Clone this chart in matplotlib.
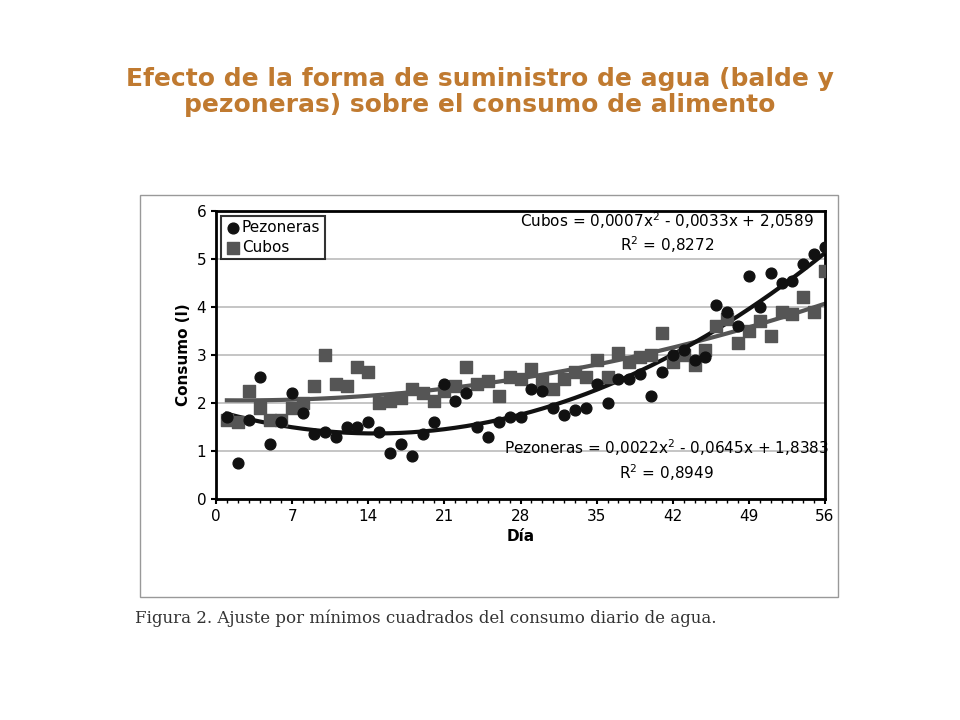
import matplotlib.pyplot as plt
import matplotlib.patches as patches
import numpy as np

dias = list(range(1, 57))
pezoneras = [1.7, 0.75, 1.65, 2.55, 1.15, 1.6, 2.2, 1.8, 1.35, 1.4, 1.3, 1.5, 1.5, 1.6, 1.4, 0.95, 1.15, 0.9,
             1.35, 1.6, 2.4, 2.05, 2.2, 1.5, 1.3, 1.6, 1.7, 1.7, 2.3, 2.25, 1.9, 1.75, 1.85, 1.9, 2.4, 2.0,
             2.5, 2.5, 2.6, 2.15, 2.65, 3.0, 3.1, 2.9, 2.95, 4.05, 3.9, 3.6, 4.65, 4.0, 4.7, 4.5, 4.55, 4.9,
             5.1, 5.25]
cubos = [1.65, 1.6, 2.25, 1.9, 1.65, 1.65, 1.9, 2.0, 2.35, 3.0, 2.4, 2.35, 2.75, 2.65, 2.0, 2.05, 2.1, 2.3,
         2.2, 2.05, 2.25, 2.35, 2.75, 2.4, 2.45, 2.15, 2.55, 2.5, 2.7, 2.45, 2.3, 2.5, 2.65, 2.55, 2.9, 2.55,
         3.05, 2.85, 2.95, 3.0, 3.45, 2.85, 3.0, 2.8, 3.1, 3.6, 3.75, 3.25, 3.5, 3.7, 3.4, 3.9, 3.85, 4.2,
         3.9, 4.75]
coef_cubos = [0.0007, -0.0033, 2.0589]
coef_pez = [0.0022, -0.0645, 1.8383]

fig = plt.figure(figsize=(9.6, 7.2), dpi=100)
fig.text(0.5, 1 - 92 / 720, 'Efecto de la forma de suministro de agua (balde y\npezoneras) sobre el consumo de alimento',
         ha='center', va='center', fontsize=18, fontweight='bold', color='#C07A30', linespacing=1.15)

# outer frame of the embedded figure
fig.patches.append(patches.Rectangle((140 / 960, 1 - 597 / 720), 698 / 960, 402 / 720,
                                     transform=fig.transFigure, fill=False, edgecolor='#999999', lw=1))
fig.text(135 / 960, 1 - 618 / 720, 'Figura 2. Ajuste por mínimos cuadrados del consumo diario de agua.',
         fontsize=12, family='DejaVu Serif', color='#333333', va='center')

ax = fig.add_axes([216 / 960, 1 - 499 / 720, 609 / 960, 288 / 720])
ax.set_xlim(0, 56)
ax.set_ylim(0, 6)
ax.set_xticks(range(0, 57, 7))
ax.set_xticks(range(0, 57), minor=True)
ax.set_yticks(range(0, 7))
ax.yaxis.grid(True, color='#bbbbbb', lw=1.2)
ax.set_axisbelow(True)
for s in ax.spines.values():
    s.set_linewidth(2)
ax.tick_params(labelsize=11, width=1.5)
ax.tick_params(which='minor', length=3, width=1)
ax.set_xlabel('Día', fontsize=11, fontweight='bold')
ax.set_ylabel('Consumo (l)', fontsize=11, fontweight='bold')

x = np.array(dias)
ax.plot(x, np.polyval(coef_cubos, x), color='#555555', lw=3)
ax.plot(x, np.polyval(coef_pez, x), color='#111111', lw=3)
ax.scatter(dias, cubos, marker='s', s=70, color='#555555', label='Cubos', zorder=3)
ax.scatter(dias, pezoneras, marker='o', s=60, color='#111111', label='Pezoneras', zorder=4)

h, l = ax.get_legend_handles_labels()
leg = ax.legend(h[::-1], l[::-1], loc='upper left', fontsize=11, frameon=True, fancybox=False,
                handletextpad=0.1, borderpad=0.3, labelspacing=0.3, handlelength=1, borderaxespad=0.3)
leg.get_frame().set_edgecolor('black')
leg.get_frame().set_linewidth(1.5)

ax.text(0.74, 0.945, 'Cubos = 0,0007x$^2$ - 0,0033x + 2,0589', transform=ax.transAxes, ha='center', fontsize=11)
ax.text(0.74, 0.86, 'R$^2$ = 0,8272', transform=ax.transAxes, ha='center', fontsize=11)
ax.text(0.74, 0.155, 'Pezoneras = 0,0022x$^2$ - 0,0645x + 1,8383', transform=ax.transAxes, ha='center', fontsize=11)
ax.text(0.74, 0.07, 'R$^2$ = 0,8949', transform=ax.transAxes, ha='center', fontsize=11)

fig.savefig('out.png')
